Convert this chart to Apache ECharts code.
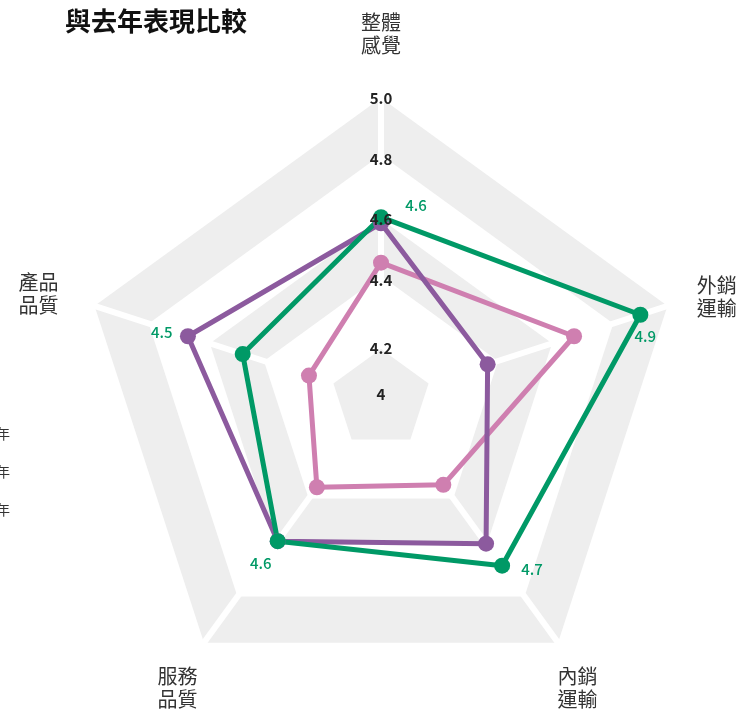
<!DOCTYPE html>
<html lang="zh-Hant">
<head>
    <meta charset="UTF-8">
    <title>與去年表現比較</title>
    <script src="https://cdn.jsdelivr.net/npm/echarts@6/dist/echarts.min.js"></script>
</head>
<body>
<div id="main"></div>
</body>

<style type="text/css" media="screen">
    html, body {
        width: 100%;
        height: 100%;
        overflow: hidden;
        margin: 0;
        background: #fff;
    }

    #main {
        width: 742px;
        height: 716px;
    }
</style>
<script>
    // 資料 (順序: 上, 左, 左下, 右下, 右 — ECharts 雷達逆時針排列)
    var indicatorNames = ['整體\n感覺', '產品\n品質', '服務\n品質', '內銷\n運輸', '外銷\n運輸'];
    var tickValues = [4, 4.2, 4.4, 4.6, 4.8, 5];
    var tickLabels = ['4', '4.2', '4.4', '4.6', '4.8', '5.0'];
    var seriesNames = ['今年', '去年', '前年'];
    var thisYear = [4.6, 4.48, 4.58, 4.68, 4.9];
    var lastYear = [4.58, 4.67, 4.58, 4.59, 4.37];
    var prevYear = [4.45, 4.25, 4.36, 4.35, 4.67];

    var font = '"Noto Sans CJK TC", "Noto Sans", sans-serif';
    var green = '#009966', purple = '#8c5a9e', pink = '#cf7fb0';
    var center = [381, 399];

    // 綠色數值標籤的位移 (x, y)
    var labelShift = [[35, -12], [-81, -22], [-17, 22], [30, 4], [5, 22]];
    var labelRich = {};
    labelShift.forEach(function (s, i) {
        var dx = s[0], dy = s[1];
        labelRich['p' + i] = {
            color: green,
            fontSize: 15,
            fontWeight: 500,
            fontFamily: font,
            padding: [Math.max(dy, 0) * 2, Math.max(-dx, 0) * 2, Math.max(-dy, 0) * 2, Math.max(dx, 0) * 2]
        };
    });

    // 各軸名稱位置
    var nameOpts = [
        {nameGap: 39},
        {nameGap: 36},
        {nameGap: 26, nameTextStyle: {align: 'center', verticalAlign: 'top', padding: [0, 20, 0, 0]}},
        {nameGap: 26, nameTextStyle: {align: 'center', verticalAlign: 'top', padding: [0, 0, 0, 6]}},
        {nameGap: 29, nameTextStyle: {align: 'left', verticalAlign: 'middle', padding: [0, 0, 16, 0]}}
    ];

    var bgIndicators = indicatorNames.map(function (n, i) {
        var o = {name: n, min: 4, max: 5};
        for (var k in nameOpts[i]) o[k] = nameOpts[i][k];
        return o;
    });

    var innerIndicators = indicatorNames.map(function (n) {
        return {name: n, min: 0, max: 1};
    });

    var labelIndicators = indicatorNames.map(function (n, i) {
        var o = {name: n, min: 4, max: 5};
        if (i === 0) {
            o.axisLabel = {
                show: true,
                margin: 0,
                align: 'center',
                verticalAlign: 'middle',
                color: '#222',
                fontSize: 15,
                fontWeight: 'bold',
                fontFamily: font,
                formatter: function (v) {
                    var idx = tickValues.findIndex(function (t) { return Math.abs(t - v) < 1e-6; });
                    var t = idx < 0 ? '' : tickLabels[idx];
                    if (idx === 0) return '{c|' + t + '}';
                    if (idx === 1) return '{d|' + t + '}';
                    return '{e|' + t + '}';
                },
                rich: {
                    c: {fontSize: 15, fontWeight: 'bold', color: '#222', fontFamily: font, padding: [0, 0, 10, 0]},
                    d: {fontSize: 15, fontWeight: 'bold', color: '#222', fontFamily: font, padding: [20, 0, 0, 0]},
                    e: {fontSize: 15, fontWeight: 'bold', color: '#222', fontFamily: font, padding: [5, 0, 0, 0]}
                }
            };
        }
        return o;
    });

    var myChart = echarts.init(document.getElementById('main'));
    var option = {
        backgroundColor: '#fff',
        animation: false,
        title: {
            text: '與去年表現比較',
            left: 60,
            top: 3,
            textStyle: {fontSize: 26, fontWeight: 'bold', color: '#111', fontFamily: font}
        },
        legend: {
            data: seriesNames,
            orient: 'vertical',
            left: -53,
            top: 422,
            itemGap: 24,
            textStyle: {fontSize: 14, color: '#333', fontFamily: font}
        },
        radar: [{
            center: center,
            radius: 303,
            shape: 'polygon',
            splitNumber: 5,
            z: 0,
            indicator: bgIndicators,
            axisName: {color: '#333', fontSize: 20, lineHeight: 23, fontFamily: font},
            axisLine: {lineStyle: {color: '#fff', width: 6}},
            splitLine: {lineStyle: {color: '#fff', width: 3}},
            splitArea: {areaStyle: {color: ['#ffffff', '#ffffff', '#eeeeee', '#ffffff', '#eeeeee']}},
            axisLabel: {show: false}
        }, {
            // 中心的小五邊形
            center: center,
            radius: 50,
            shape: 'polygon',
            splitNumber: 1,
            z: 1,
            silent: true,
            indicator: innerIndicators,
            axisName: {show: false},
            axisLine: {show: false},
            splitLine: {show: false},
            splitArea: {areaStyle: {color: ['#eeeeee']}},
            axisTick: {show: false},
            axisLabel: {show: false}
        }, {
            center: center,
            radius: 303,
            shape: 'polygon',
            splitNumber: 5,
            z: 5,
            silent: true,
            indicator: labelIndicators,
            axisName: {show: false},
            axisLine: {show: false},
            splitLine: {show: false},
            splitArea: {show: false},
            axisTick: {show: false},
            axisLabel: {show: false}
        }],
        series: [{
            type: 'radar',
            radarIndex: 0,
            symbol: 'circle',
            symbolSize: 16,
            data: [{
                name: seriesNames[2],
                value: prevYear,
                lineStyle: {color: pink, width: 5},
                itemStyle: {color: pink}
            }, {
                name: seriesNames[1],
                value: lastYear,
                lineStyle: {color: purple, width: 5},
                itemStyle: {color: purple}
            }, {
                name: seriesNames[0],
                value: thisYear,
                lineStyle: {color: green, width: 5},
                itemStyle: {color: green},
                label: {
                    show: true,
                    position: 'inside',
                    formatter: function (p) {
                        var i = thisYear.indexOf(p.value);
                        return '{p' + i + '|' + p.value.toFixed(1) + '}';
                    },
                    rich: labelRich
                }
            }]
        }]
    };
    myChart.setOption(option);
</script>
</html>
